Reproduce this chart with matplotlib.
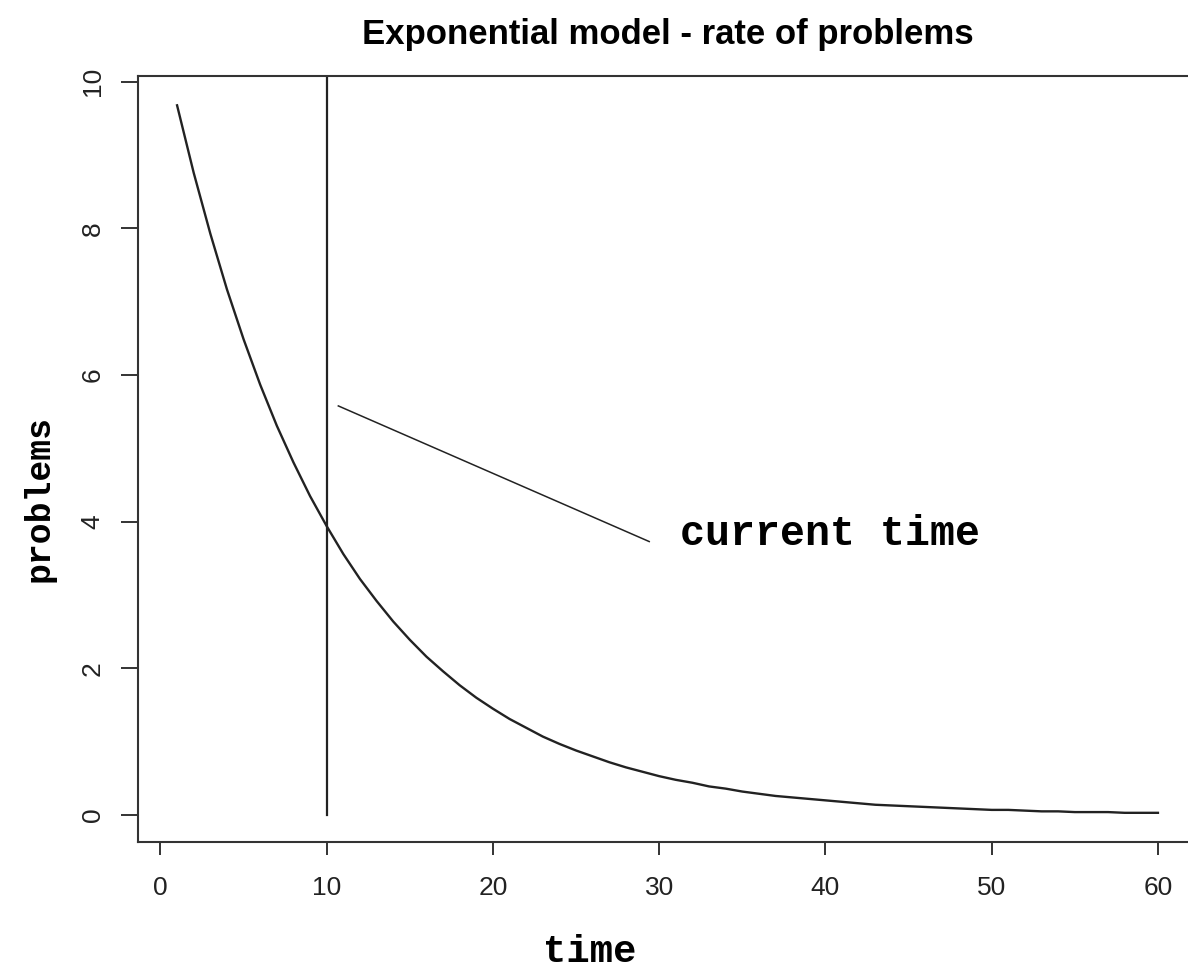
import matplotlib
matplotlib.use("Agg")
import matplotlib.pyplot as plt

# ---- data ----
time = list(range(1, 61))
problems = [9.68, 8.76, 7.93, 7.17, 6.49, 5.87, 5.31, 4.81, 4.35, 3.94,
            3.56, 3.22, 2.92, 2.64, 2.39, 2.16, 1.96, 1.77, 1.60, 1.45,
            1.31, 1.19, 1.07, 0.97, 0.88, 0.80, 0.72, 0.65, 0.59, 0.53,
            0.48, 0.44, 0.39, 0.36, 0.32, 0.29, 0.26, 0.24, 0.22, 0.20,
            0.18, 0.16, 0.14, 0.13, 0.12, 0.11, 0.10, 0.09, 0.08, 0.07,
            0.07, 0.06, 0.05, 0.05, 0.04, 0.04, 0.04, 0.03, 0.03, 0.03]
current_time = 10
vline_y = [0, 10.5]
pointer_x = [10.7, 29.4]
pointer_y = [5.58, 3.73]
label_text = "current time"
x_ticks = [0, 10, 20, 30, 40, 50, 60]
y_ticks = [0, 2, 4, 6, 8, 10]
title = "Exponential model - rate of problems"
xlabel = "time"
ylabel = "problems"

W, H = 1188, 972
fig = plt.figure(figsize=(W / 100, H / 100), dpi=100)
left, right, top, bottom = 138, 1197, 76, 842
ax = fig.add_axes([left / W, 1 - bottom / H, (right - left) / W, (bottom - top) / H])

ink = "#222222"
ax.plot(time, problems, color=ink, lw=1.7, solid_joinstyle="miter")
ax.plot([current_time, current_time], vline_y, color=ink, lw=1.6)
ax.plot(pointer_x, pointer_y, color=ink, lw=1.1)
ax.text(31.26, 3.68, label_text, family="Liberation Mono", weight="bold",
        fontsize=30, ha="left", va="baseline", color="black")

ax.set_xlim(-1.35, 62.35)
ax.set_ylim(-0.368, 10.08)
ax.set_xticks(x_ticks)
ax.set_yticks(y_ticks)
ax.set_xticklabels([str(v) for v in x_ticks])
ax.set_yticklabels([str(v) for v in y_ticks], rotation=90, va="center")

for s in ["left", "top", "bottom"]:
    ax.spines[s].set_color("#333333")
    ax.spines[s].set_linewidth(1.5)
ax.spines["right"].set_visible(False)

ax.tick_params(axis="x", length=9.4, width=1.4, color="#333333", pad=15,
               labelsize=19, labelcolor="#222222")
ax.tick_params(axis="y", length=12, width=1.4, color="#333333", pad=12,
               labelsize=19, labelcolor="#222222")
for lab in ax.get_xticklabels() + ax.get_yticklabels():
    lab.set_family("Liberation Sans")

fig.text((left + right) / 2 / W, 1 - 44 / H, title, family="Liberation Sans",
         weight="bold", fontsize=25, ha="center", va="baseline")
fig.text(590 / W, 1 - 962 / H, xlabel, family="Liberation Mono", weight="bold",
         fontsize=28, ha="center", va="baseline")
fig.text(39 / W, 1 - 499 / H, ylabel, family="Liberation Mono", weight="bold",
         fontsize=25, ha="center", va="center", rotation=90)

fig.savefig("out.png", dpi=100)
